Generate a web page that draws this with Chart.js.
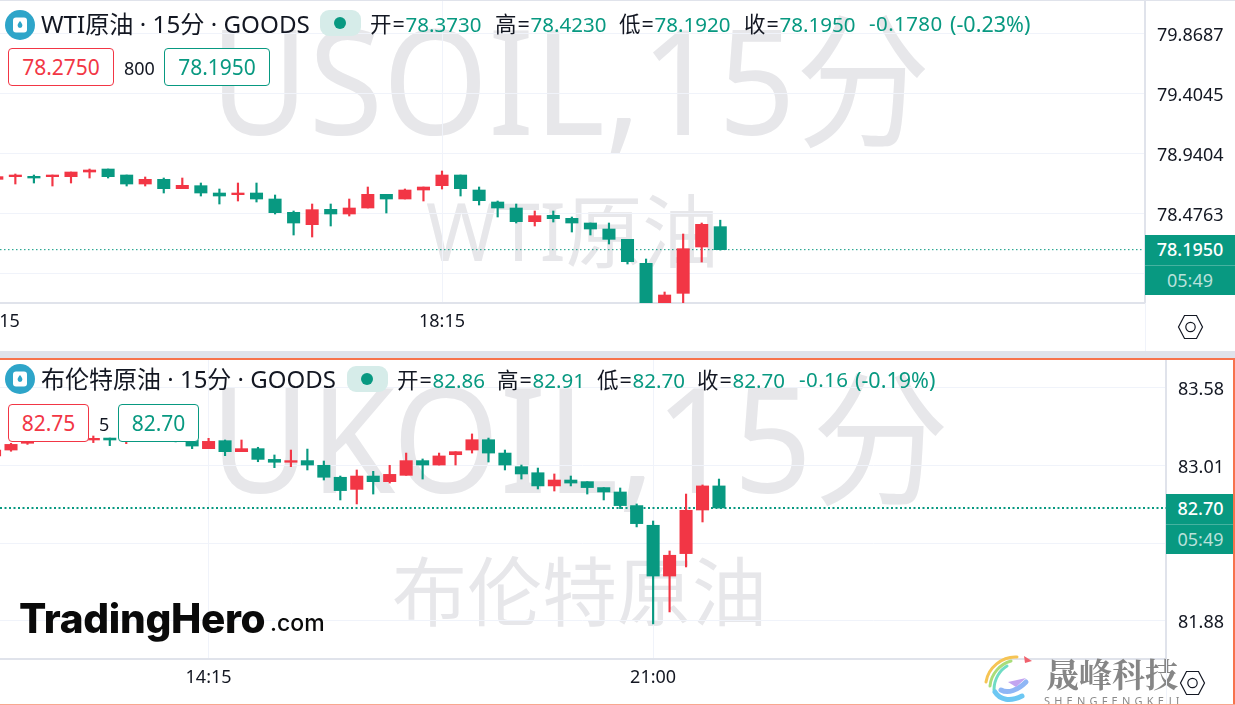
<!DOCTYPE html>
<html><head><meta charset="utf-8">
<script src="https://cdn.jsdelivr.net/npm/chart.js@4"></script>
<style>
html,body{margin:0;padding:0;background:#fff;overflow:hidden;width:1235px;height:705px}
#page{position:relative;width:1235px;height:705px;overflow:hidden;font-family:"Noto Sans","Noto Sans CJK SC",sans-serif;color:#131722}
.t{position:absolute;white-space:nowrap;line-height:1}
canvas{position:absolute;z-index:1}
.wm{position:absolute;white-space:nowrap;color:#e7e7ea;line-height:1;z-index:0;font-family:"Noto Sans","Noto Sans CJK SC",sans-serif;font-weight:400;transform-origin:left center}
.ov{z-index:2}
.pill{position:absolute;background:#d6ece9;border-radius:9px;z-index:2;width:41px;height:26px}
.pill i{position:absolute;left:14px;top:7px;width:12px;height:12px;border-radius:50%;background:#089981}
.box{position:absolute;background:#fff;border:1.3px solid;border-radius:4px;z-index:2;height:36px;line-height:36px;text-align:center;font-size:21px}
.r{border-color:#f23645;color:#f23645}.g{border-color:#089981;color:#089981}
.o{position:absolute;z-index:2;white-space:nowrap;line-height:1;font-size:20.5px;color:#089981}
.o u{text-decoration:none;color:#131722;font-size:21.5px;letter-spacing:.9px;margin-right:0}
.px{position:absolute;z-index:2;background:#089981;color:#fff;text-align:center}
.px div{height:29.5px;line-height:29px;font-size:18px}
.px .p{font-weight:500;border-bottom:1px solid rgba(255,255,255,.25)}
.px .c{color:rgba(255,255,255,.72)}
.line{position:absolute;z-index:3}
</style></head><body>
<div id="page">
  <div class="line" style="left:0;top:0;width:1235px;height:1px;background:#e0e3eb"></div>
  <div class="wm" style="left:210px;top:6px;font-size:146px;transform:scaleX(.925)">USOIL,15分</div>
  <div class="wm" style="left:426px;top:190px;font-size:80px;transform:scaleX(.957)">WTI原油</div>
  <div class="wm" style="left:210px;top:364px;font-size:146px;transform:scaleX(.94)">UKOIL,15分</div>
  <div class="wm" style="left:392px;top:554px;font-size:75px">布伦特原油</div>

  <canvas id="chartA" width="1295" height="351" style="left:-60px;top:0"></canvas>
  <canvas id="chartB" width="1233" height="345" style="left:0;top:360px"></canvas>

  <svg class="line" style="left:5px;top:10px" width="30" height="30" viewBox="0 0 30 30"><circle cx="15" cy="15" r="15" fill="#2ea5c9"/><rect x="8" y="7.5" width="14" height="15" rx="3" fill="#fff"/><path d="M15 11c-1.5 2-2.4 3.2-2.4 4.6a2.4 2.4 0 0 0 4.8 0C17.400 14.200 16.500 13 15 11z" fill="#2ea5c9"/></svg>
  <div class="t ov" style="left:41px;top:12px;font-size:24.2px">WTI原油 · 15分 · GOODS</div>
  <div class="pill" style="left:320px;top:10px"><i></i></div>
  <div class="o" style="left:370px;top:13px"><u>开=</u>78.3730</div>
  <div class="o" style="left:495px;top:13px"><u>高=</u>78.4230</div>
  <div class="o" style="left:619px;top:13px"><u>低=</u>78.1920</div>
  <div class="o" style="left:744px;top:13px"><u>收=</u>78.1950</div>
  <div class="o" style="left:869px;top:13px;letter-spacing:.4px">-0.1780</div>
  <div class="o" style="left:950px;top:13px;font-size:21.5px">(-0.23%)</div>
  <div class="box r" style="left:8px;top:48px;width:104px">78.2750</div>
  <div class="t ov" style="left:124px;top:59px;font-size:18px">800</div>
  <div class="box g" style="left:164px;top:48px;width:104px">78.1950</div>

  <svg class="line" style="left:5px;top:364px" width="30" height="30" viewBox="0 0 30 30"><circle cx="15" cy="15" r="15" fill="#2ea5c9"/><rect x="8" y="7.5" width="14" height="15" rx="3" fill="#fff"/><path d="M15 11c-1.5 2-2.4 3.2-2.4 4.6a2.4 2.4 0 0 0 4.8 0C17.400 14.200 16.500 13 15 11z" fill="#2ea5c9"/></svg>
  <div class="t ov" style="left:41px;top:367px;font-size:24px">布伦特原油 · 15分 · GOODS</div>
  <div class="pill" style="left:347px;top:366px"><i></i></div>
  <div class="o" style="left:397px;top:369px"><u>开=</u>82.86</div>
  <div class="o" style="left:497px;top:369px"><u>高=</u>82.91</div>
  <div class="o" style="left:597px;top:369px"><u>低=</u>82.70</div>
  <div class="o" style="left:697px;top:369px"><u>收=</u>82.70</div>
  <div class="o" style="left:799px;top:369px;letter-spacing:.4px">-0.16</div>
  <div class="o" style="left:855px;top:369px;font-size:21.5px">(-0.19%)</div>
  <div class="box r" style="left:8px;top:404px;width:79px">82.75</div>
  <div class="t ov" style="left:99px;top:415px;font-size:18px">5</div>
  <div class="box g" style="left:118px;top:404px;width:79px">82.70</div>

  <div class="px" style="left:1145px;top:235px;width:90px"><div class="p">78.1950</div><div class="c">05:49</div></div>
  <div class="px" style="left:1166px;top:494px;width:69px"><div class="p">82.70</div><div class="c">05:49</div></div>

  <div class="line" style="left:1145px;top:303px;width:1px;height:48px;background:#f0f3fa"></div>
  <div class="line" style="left:1166px;top:659px;width:1px;height:45px;background:#f0f3fa"></div>
  <div class="line" style="left:0;top:351px;width:1235px;height:7px;background:#e0e3eb"></div>
  <div class="line" style="left:0;top:358px;width:1235px;height:2px;background:#f7734d"></div>
  <div class="line" style="left:1233px;top:358px;width:2px;height:347px;background:#f7734d"></div>
  <div class="line" style="left:0;top:704px;width:1235px;height:1px;background:#f9a78f"></div>

  <svg class="line" style="left:1177px;top:314px" width="27" height="26" viewBox="0 0 27 26" fill="none" stroke="#131722" stroke-width="1.2"><path d="M7.500 1.500h12l6 11.500-6 11.500h-12L1.500 13z"/><circle cx="13.500" cy="13" r="4.700"/></svg>
  <svg class="line" style="left:1179px;top:670px" width="27" height="26" viewBox="0 0 27 26" fill="none" stroke="#131722" stroke-width="1.200"><path d="M7.500 1.500h12l6 11.500-6 11.500h-12L1.500 13z"/><circle cx="13.500" cy="13" r="4.700"/></svg>

  <div class="t ov" style="left:19px;top:599px;font-family:Inter,Lato,sans-serif;font-weight:800;font-size:40.5px;color:#0a0a0a;letter-spacing:-.3px">TradingHero</div>
  <div class="t ov" style="left:270px;top:612px;font-family:Inter,Lato,sans-serif;font-weight:500;font-size:23px;color:#0a0a0a">.com</div>

  <svg class="line" style="left:980px;top:652px" width="62" height="53" viewBox="0 0 62 53" fill="none" stroke-linecap="round">
    <path d="M37 5C22 4 8 16 6 30" stroke="#f6c454" stroke-width="3"/>
    <path d="M31 9C20 12 11 22 10 34" stroke="#a9dd7a" stroke-width="3"/>
    <path d="M27 14C20 18 14 27 14 38" stroke="#6fdcc4" stroke-width="3"/>
    <path d="M15 40C20 48 30 50 42 44" stroke="#6cc7f3" stroke-width="5"/>
    <path d="M21 38C28 42 38 38 46 30" stroke="#8fb6f5" stroke-width="5"/>
    <path d="M28 30L46 26L36 35Z" fill="#c3a5f0"/>
    <path d="M44 4L52 9L45 11Z" fill="#f0616d"/>
  </svg>
  <div class="t ov" style="left:1046px;top:656px;font-size:33px;font-weight:700;color:#868686;font-family:'Noto Serif CJK SC','Noto Sans CJK SC',sans-serif">晟峰科技</div>
  <div class="t ov" style="left:1044px;top:695px;font-size:11px;letter-spacing:4.200px;color:#8a8a8a">SHENGFENGKEJI</div>
</div>
<script>
const UP = '#f23645', DOWN = '#089981', GRID = '#f0f3fa', AXIS = '#e0e3eb', TXT = '#131722';
const FONT = '"Noto Sans","Noto Sans CJK SC",sans-serif';

/* WTI crude, 15 minute bars */
const wtiOpen  = [78.739,78.7596,78.7622,78.7596,78.7596,78.7957,78.8189,78.7725,78.7029,78.739,78.6668,78.69,78.6333,78.6204,78.6333,78.5869,78.4838,78.3884,78.507,78.4709,78.5173,78.623,78.5869,78.6565,78.69,78.7725,78.6565,78.5637,78.5173,78.4116,78.4606,78.4373,78.4012,78.3548,78.2749,78.0893,77.77,77.8572,78.2156,78.373];
const wtiHigh  = [78.765,78.7803,78.7725,78.7725,78.7957,78.8189,78.8189,78.7725,78.7571,78.7493,78.7493,78.7106,78.6642,78.7106,78.7106,78.6178,78.4941,78.5482,78.5482,78.5869,78.6797,78.623,78.6642,78.6797,78.8035,78.7725,78.6797,78.5714,78.5482,78.4941,78.4941,78.4477,78.4012,78.4012,78.2749,78.1228,77.8675,78.3162,78.4012,78.423];
const wtiLow   = [78.735,78.7029,78.7106,78.6874,78.7106,78.7493,78.7493,78.6874,78.6874,78.6333,78.6668,78.6101,78.5482,78.5714,78.5637,78.4709,78.3084,78.293,78.3781,78.4554,78.5173,78.4786,78.5869,78.5714,78.6642,78.6101,78.5405,78.4477,78.4012,78.3781,78.409,78.3316,78.3084,78.2388,78.0841,77.74,77.76,77.78,78.0996,78.192];
const wtiClose = [78.76,78.7725,78.7493,78.7725,78.7957,78.8112,78.7596,78.7029,78.739,78.6668,78.6926,78.6333,78.6101,78.6333,78.5869,78.4812,78.4012,78.5044,78.4709,78.5173,78.623,78.5869,78.6565,78.6797,78.7725,78.6668,78.574,78.5173,78.4116,78.458,78.4348,78.4012,78.3548,78.2749,78.1022,77.75,77.8443,78.2027,78.3909,78.195];
const wtiLast = 78.195;
const wtiYTicks = [79.8687,79.4045,78.9404,78.4763,78.0122];
const wtiTimeIndex = [0,24];
const wtiTimeLabels = ['12:15','18:15'];

/* Brent crude, 15 minute bars */
const brentOpen  = [83.078,83.121,83.17,83.2,83.23,83.24,83.194,83.208,83.21,83.22,83.22,83.21,83.194,83.131,83.189,83.109,83.131,83.053,83.032,83.044,83.01,82.923,82.835,82.932,82.891,82.937,83.044,83.012,83.087,83.121,83.196,83.099,83.0,82.956,82.86,82.903,82.891,82.848,82.816,82.717,82.574,82.205,82.368,82.685,82.86];
const brentHigh  = [83.13,83.17,83.2,83.24,83.26,83.26,83.223,83.208,83.24,83.24,83.24,83.23,83.2,83.206,83.194,83.194,83.141,83.085,83.121,83.128,83.041,82.932,82.976,82.966,83.01,83.099,83.056,83.099,83.109,83.238,83.208,83.121,83.012,82.99,82.947,82.932,82.891,82.848,82.845,82.729,82.605,82.387,82.801,82.867,82.91];
const brentLow   = [83.07,83.112,83.162,83.19,83.21,83.19,83.175,83.153,83.167,83.2,83.19,83.18,83.131,83.131,83.08,83.109,83.036,82.993,83.0,82.976,82.903,82.758,82.729,82.801,82.881,82.937,82.91,83.012,83.012,83.099,83.034,82.976,82.91,82.838,82.823,82.86,82.801,82.758,82.695,82.562,81.857,81.944,82.271,82.598,82.7];
const brentClose = [83.121,83.162,83.19,83.23,83.25,83.22,83.206,83.194,83.225,83.23,83.21,83.2,83.15,83.184,83.109,83.131,83.053,83.032,83.044,83.012,82.923,82.826,82.932,82.891,82.944,83.044,83.012,83.078,83.109,83.196,83.099,83.012,82.947,82.86,82.903,82.881,82.848,82.816,82.717,82.586,82.205,82.356,82.683,82.86,82.7];
const brentLast = 82.70;
const brentYTicks = [83.575,83.01,82.445,81.88];
const brentYLabels = ['83.58','83.01','','81.88'];
const brentTimeIndex = [13,40];
const brentTimeLabels = ['14:15','21:00'];

function candleChart(id, s) {
  const colors = s.open.map((o, i) => s.close[i] >= o ? UP : DOWN);
  const wicks  = s.open.map((_, i) => ({ x: i, y: [s.low[i], s.high[i]] }));
  const bodies = s.open.map((o, i) => ({ x: i, y: [o, s.close[i]] }));
  return new Chart(document.getElementById(id), {
    type: 'bar',
    data: { datasets: [
      { type:'line', data:[{x:s.xMin,y:s.last},{x:s.lineEnd,y:s.last}], borderColor:DOWN, borderWidth:s.dashW, borderDash:s.dash, pointRadius:0, order:3 },
      { data:wicks, backgroundColor:colors, barThickness:s.wick, grouped:false, order:2 },
      { data:bodies, backgroundColor:colors, barThickness:12.4, grouped:false, order:1 }
    ]},
    options: {
      responsive:false, animation:false, events:[],
      layout:{ padding:0 },
      plugins:{ legend:{display:false}, tooltip:{enabled:false} },
      scales:{
        x:{ type:'linear', offset:false, min:s.xMin, max:s.xMax,
            grid:{ color:GRID, drawTicks:false, lineWidth:1, offset:false },
            border:{ color:AXIS, width:2 },
            afterBuildTicks:a=>{ a.ticks = s.timeIndex.map(v=>({value:v})); },
            afterFit:a=>{ a.height=s.xH; a.paddingLeft=0; a.paddingRight=0; },
            ticks:{ autoSkip:false, maxRotation:0, padding:8, color:TXT, font:{family:FONT,size:18},
                    callback:v=>s.timeLabels[s.timeIndex.indexOf(v)] } },
        y:{ position:'right', min:s.yMin, max:s.yMax,
            grid:{ color:GRID, drawTicks:false, lineWidth:1 },
            border:{ color:AXIS, width:2 },
            afterBuildTicks:a=>{ a.ticks = s.yTicks.map(v=>({value:v})); },
            afterFit:a=>{ a.width=s.yW; a.paddingTop=0; a.paddingBottom=0; },
            ticks:{ padding:12, color:TXT, font:{family:FONT,size:18,lineHeight:s.yNudge}, callback:v=>['',s.yFmt(v)] } }
      }
    }
  });
}

candleChart('chartA', {
  open:wtiOpen, high:wtiHigh, low:wtiLow, close:wtiClose, last:wtiLast,
  yTicks:wtiYTicks, yFmt:v=>v===78.0122?'':v.toFixed(4),
  timeIndex:wtiTimeIndex, timeLabels:wtiTimeLabels,
  xMin:-3.062, xMax:61.897, lineEnd:61.75, yMin:77.7825, yMax:80.1262,
  xH:48, yW:90, wick:1.5, dash:[1.5,2.5], dashW:1, yNudge:'6px'
});
candleChart('chartB', {
  open:brentOpen, high:brentHigh, low:brentLow, close:brentClose, last:brentLast,
  yTicks:brentYTicks, yFmt:v=>brentYLabels[brentYTicks.indexOf(v)],
  timeIndex:brentTimeIndex, timeLabels:brentTimeLabels,
  xMin:0.3316, xMax:71.15, lineEnd:71.15, yMin:81.6018, yMax:83.7755,
  xH:46, yW:67, wick:1.5, dash:[2,2.5], dashW:2, yNudge:'5px'
});
</script>
</body></html>
